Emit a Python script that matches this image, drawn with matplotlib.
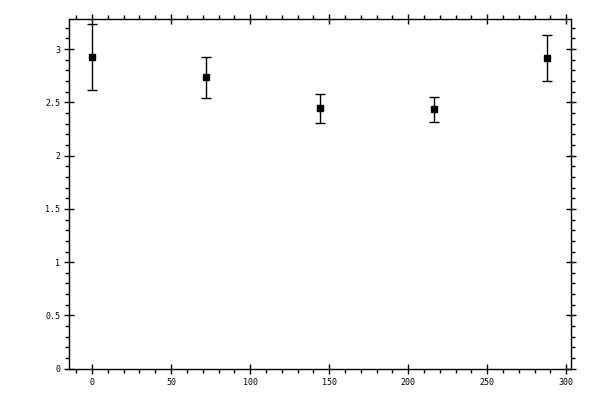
import matplotlib

matplotlib.use("Agg")
import matplotlib.pyplot as plt
from matplotlib.ticker import MultipleLocator, FormatStrFormatter

# values
x = [0, 72, 144, 216, 288]
y = [2.924, 2.736, 2.448, 2.439, 2.915]
err_lo = [0.310, 0.197, 0.138, 0.123, 0.215]
err_hi = [0.310, 0.188, 0.134, 0.115, 0.218]

plt.rcParams.update({
    "font.family": "DejaVu Sans Mono",
    "font.size": 6,
    "axes.linewidth": 1.0,
})

fig = plt.figure(figsize=(6, 4), dpi=100)
ax = fig.add_axes([0.1155, 0.0768, 0.8357, 0.8752])

ax.errorbar(x, y, yerr=[err_lo, err_hi], fmt="s", color="black",
            ms=5.0, ecolor="black", elinewidth=1.0, capsize=3.5, capthick=1.0)

ax.set_xlim(-14.4, 302.8)
ax.set_ylim(-0.005, 3.28)
ax.xaxis.set_major_locator(MultipleLocator(50))
ax.xaxis.set_minor_locator(MultipleLocator(10))
ax.yaxis.set_major_locator(MultipleLocator(0.5))
ax.yaxis.set_minor_locator(MultipleLocator(0.1))
ax.yaxis.set_major_formatter(FormatStrFormatter("%g"))

ax.tick_params(which="major", direction="inout", length=7, width=1.0,
               top=True, right=True, pad=3)
ax.tick_params(which="minor", direction="out", length=3, width=1.0,
               top=True, right=True)

fig.savefig("out.png", dpi=100)
